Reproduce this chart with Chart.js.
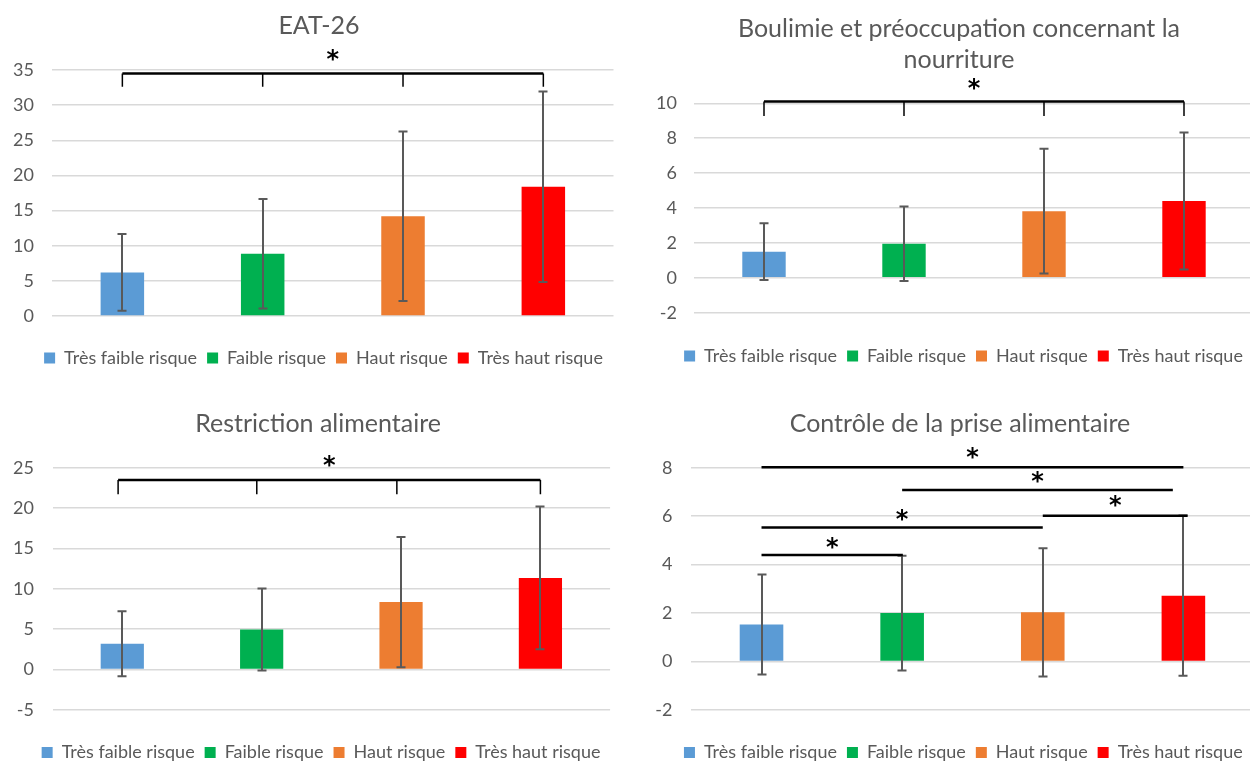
<!DOCTYPE html>
<html lang="fr">
<head>
<meta charset="utf-8">
<title>Scores EAT-26 par niveau de risque</title>
<script src="https://cdn.jsdelivr.net/npm/chart.js@4.4.1/dist/chart.umd.min.js"></script>
<style>
  html, body { margin: 0; padding: 0; background: #fff; }
  body { width: 1250px; height: 762px; overflow: hidden; position: relative; }
  canvas { position: absolute; }
</style>
</head>
<body>
<canvas id="eatChart" width="625" height="381" style="left:0;top:0"></canvas>
<canvas id="boulChart" width="640" height="381" style="left:625px;top:0"></canvas>
<canvas id="restChart" width="625" height="400" style="left:0;top:381px"></canvas>
<canvas id="ctrlChart" width="640" height="400" style="left:625px;top:381px"></canvas>
<script>
// groupes de risque
const categories = ['Très faible risque', 'Faible risque', 'Haut risque', 'Très haut risque'];
const barColors = ['#5B9BD5', '#00B050', '#ED7D31', '#FF0000'];

// EAT-26 total
const eatMeans = [6.2, 8.85, 14.2, 18.4];
const eatSD = [5.45, 7.8, 12.05, 13.55];
const eatAxis = [0, 35, 5];
const eatBrackets = [
    { from: 0, to: 3, ticks: [0, 1, 2, 3], level: 34.5, drop: 32.6, star: 37.1 }
];

// Boulimie et préoccupation
const boulMeans = [1.5, 1.95, 3.82, 4.4];
const boulSD = [1.62, 2.13, 3.58, 3.92];
const boulAxis = [-2, 10, 2];
const boulBrackets = [
    { from: 0, to: 3, ticks: [0, 1, 2, 3], level: 10.1, drop: 9.27, star: 11.08 }
];

// Restriction alimentaire
const restMeans = [3.2, 4.95, 8.35, 11.35];
const restSD = [4.03, 5.08, 8.08, 8.85];
const restAxis = [-5, 25, 5];
const restBrackets = [
    { from: -0.03, to: 3, ticks: [-0.03, 0.965, 1.97, 3], level: 23.47, drop: 21.7, star: 25.86 }
];

// Contrôle de la prise alimentaire
const ctrlMeans = [1.53, 2.0, 2.03, 2.72];
const ctrlSD = [2.06, 2.37, 2.65, 3.31];
const ctrlAxis = [-2, 8, 2];
const ctrlBrackets = [
    { from: 0, to: 3, level: 8.02, star: 8.6 },
    { from: 1, to: 2.925, level: 7.08, star: 7.6 },
    { from: 2, to: 3.03, level: 6.02, star: 6.64 },
    { from: 0, to: 2, level: 5.53, star: 6.05 },
    { from: 0, to: 1.005, level: 4.4, star: 4.91 }
];

const GREY = '#595959';
const FONT = 'Lato';

function errorBracketPlugin(means, sd, brackets, lay) {
    return {
        id: 'errorBrackets',
        afterLayout(chart) {
            // recentre légende et titre comme dans Excel
            chart.legend.left += lay.legendDx;
            chart.legend.right += lay.legendDx;
            chart.titleBlock.left += lay.titleDx;
            chart.titleBlock.right += lay.titleDx;
        },
        afterDatasetsDraw(chart) {
            const { ctx, scales: { x, y } } = chart;
            ctx.save();

            // barres d'erreur
            ctx.strokeStyle = GREY;
            ctx.lineWidth = 2;
            means.forEach((m, i) => {
                const bar = chart.getDatasetMeta(i).data[i];
                const px = Math.round(bar.x);
                const top = y.getPixelForValue(m + sd[i]);
                const bot = y.getPixelForValue(m - sd[i]);
                ctx.beginPath();
                ctx.moveTo(px, top); ctx.lineTo(px, bot);
                ctx.moveTo(px - 4.5, top); ctx.lineTo(px + 4.5, top);
                ctx.moveTo(px - 4.5, bot); ctx.lineTo(px + 4.5, bot);
                ctx.stroke();
            });

            // crochets de significativité
            ctx.strokeStyle = '#000';
            ctx.fillStyle = '#000';
            ctx.font = 'bold 24px "DejaVu Sans"';
            ctx.textAlign = 'center';
            ctx.textBaseline = 'alphabetic';
            brackets.forEach(b => {
                const yl = y.getPixelForValue(b.level);
                const x1 = x.getPixelForValue(b.from);
                const x2 = x.getPixelForValue(b.to);
                ctx.lineWidth = 2.5;
                ctx.beginPath();
                ctx.moveTo(x1, yl); ctx.lineTo(x2, yl);
                ctx.stroke();
                if (b.ticks) {
                    const yd = y.getPixelForValue(b.drop);
                    ctx.lineWidth = 1.5;
                    ctx.beginPath();
                    b.ticks.forEach(t => {
                        const tx = x.getPixelForValue(t);
                        ctx.moveTo(tx, yl); ctx.lineTo(tx, yd);
                    });
                    ctx.stroke();
                }
                const m = ctx.measureText('*');
                const ys = y.getPixelForValue(b.star);
                ctx.fillText('*', (x1 + x2) / 2, ys + (m.actualBoundingBoxAscent - m.actualBoundingBoxDescent) / 2);
            });
            ctx.restore();
        }
    };
}

function drawChart(id, title, means, sd, axis, brackets, lay) {
    new Chart(document.getElementById(id), {
        type: 'bar',
        data: {
            labels: categories,
            datasets: categories.map((c, i) => ({
                label: c,
                data: categories.map((_, j) => (j === i ? means[i] : null)),
                backgroundColor: barColors[i],
                borderWidth: 0,
                barPercentage: 0.31,
                categoryPercentage: 1,
                skipNull: true
            }))
        },
        options: {
            responsive: false,
            animation: false,
            devicePixelRatio: 1,
            layout: { padding: { left: 0, right: lay.pr, top: 0, bottom: lay.pb } },
            plugins: {
                tooltip: { enabled: false },
                title: {
                    display: true,
                    text: title,
                    color: GREY,
                    font: { family: FONT, size: 25, weight: 'normal', lineHeight: 1.26 },
                    padding: lay.titlePad
                },
                legend: {
                    position: 'bottom',
                    labels: {
                        boxWidth: 11,
                        boxHeight: 11,
                        padding: 10,
                        color: GREY,
                        font: { family: FONT, size: 18 }
                    }
                }
            },
            scales: {
                x: {
                    grid: { display: false },
                    border: { display: false },
                    ticks: { display: false },
                    afterFit: s => { s.height = lay.xh; }
                },
                y: {
                    min: axis[0],
                    max: axis[1],
                    ticks: {
                        stepSize: axis[2],
                        color: GREY,
                        padding: lay.lp,
                        font: { family: FONT, size: 18 }
                    },
                    grid: { color: '#D9D9D9', lineWidth: 1.5, drawTicks: false },
                    border: { display: false },
                    afterFit: s => { s.width = lay.yw; }
                }
            }
        },
        plugins: [errorBracketPlugin(means, sd, brackets, lay)]
    });
}

drawChart('eatChart', 'EAT-26', eatMeans, eatSD, eatAxis, eatBrackets,
    { pr: 11.5, pb: 4, yw: 52.2, lp: 18.3, xh: 23, legendDx: 16.75, titleDx: 12.25,
      titlePad: { top: 9.75, bottom: 28.75 } });
drawChart('boulChart', ['Boulimie et préoccupation concernant la', 'nourriture'], boulMeans, boulSD, boulAxis, boulBrackets,
    { pr: 11, pb: 6, yw: 69, lp: 17, xh: 24.3, legendDx: 24, titleDx: 19.5,
      titlePad: { top: 12.7, bottom: 27.6 } });
drawChart('restChart', 'Restriction alimentaire', restMeans, restSD, restAxis, restBrackets,
    { pr: 14.9, pb: 9.5, yw: 52.6, lp: 18.7, xh: 23.6, legendDx: 16, titleDx: 13,
      titlePad: { top: 27.25, bottom: 27.95 } });
drawChart('ctrlChart', 'Contrôle de la prise alimentaire', ctrlMeans, ctrlSD, ctrlAxis, ctrlBrackets,
    { pr: 11.3, pb: 9.5, yw: 66.2, lp: 18.7, xh: 23.5, legendDx: 24, titleDx: 20.6,
      titlePad: { top: 27.25, bottom: 27.95 } });
</script>
</body>
</html>
